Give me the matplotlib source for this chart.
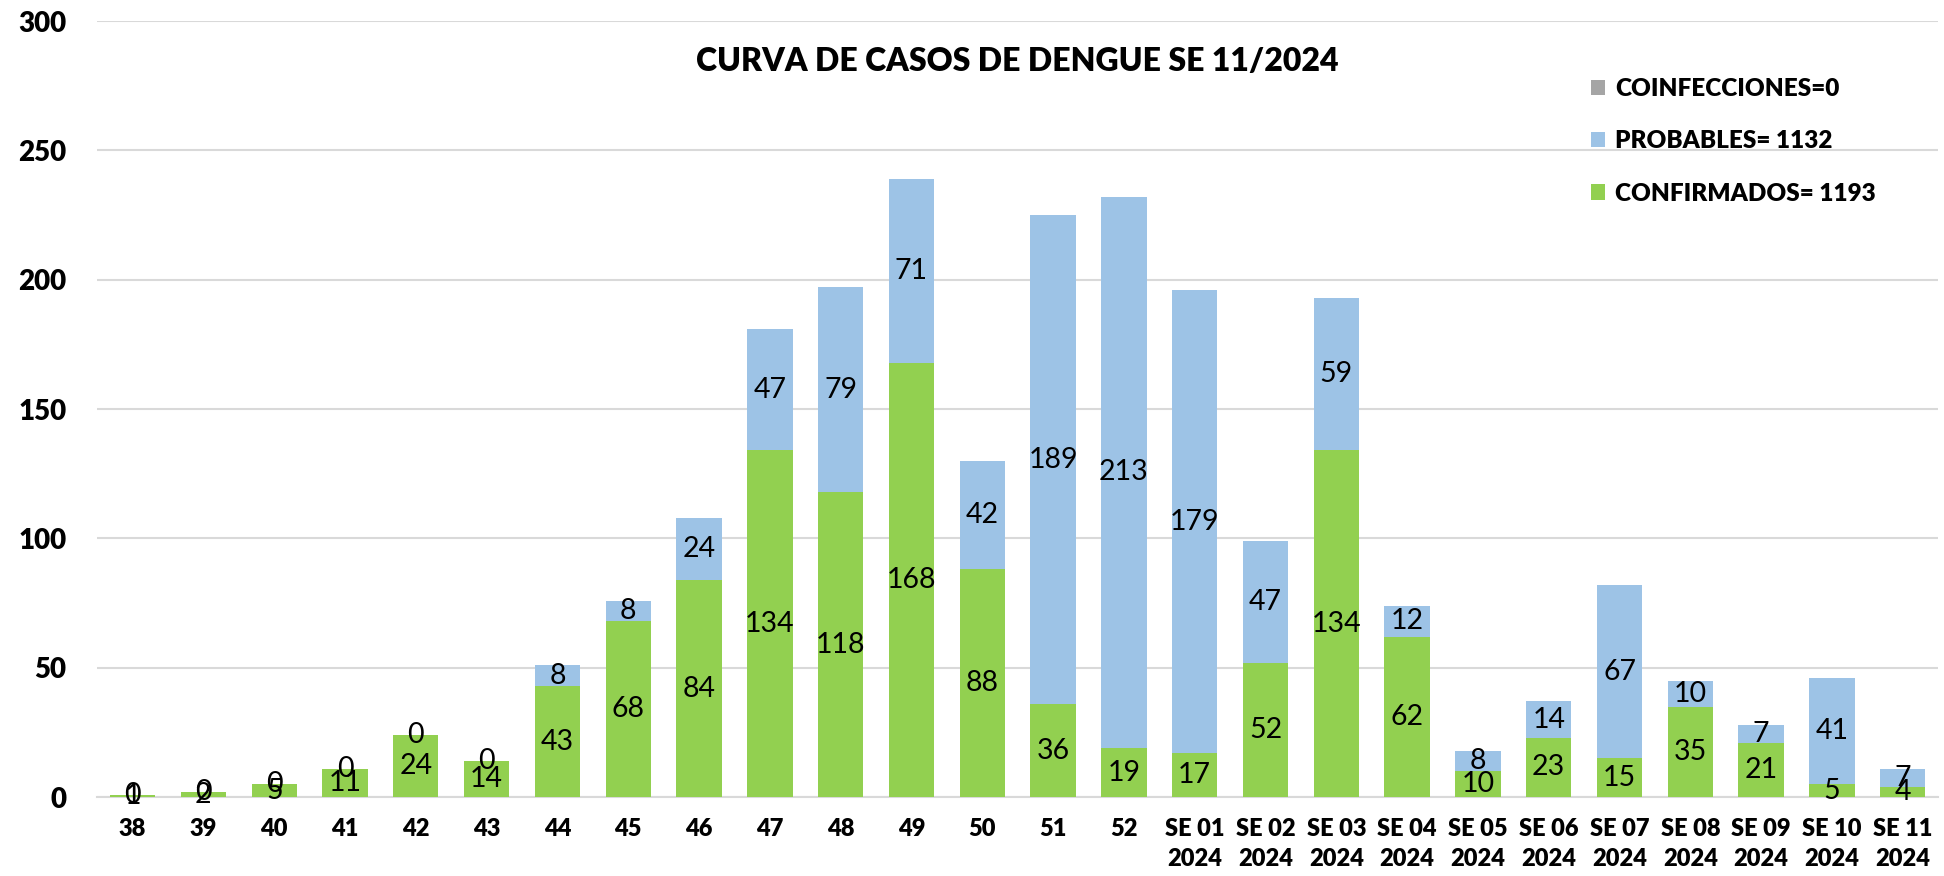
import numpy as np
import matplotlib
matplotlib.use("Agg")
from matplotlib import pyplot as plt

plt.rcParams['font.family'] = ['Lato', 'DejaVu Sans']

semanas = ["38", "39", "40", "41", "42", "43", "44", "45", "46", "47", "48", "49", "50", "51", "52",
           "SE 01\n2024", "SE 02\n2024", "SE 03\n2024", "SE 04\n2024", "SE 05\n2024", "SE 06\n2024",
           "SE 07\n2024", "SE 08\n2024", "SE 09\n2024", "SE 10\n2024", "SE 11\n2024"]
confirmados = [1, 2, 5, 11, 24, 14, 43, 68, 84, 134, 118, 168, 88, 36, 19,
               17, 52, 134, 62, 10, 23, 15, 35, 21, 5, 4]
probables = [0, 0, 0, 0, 0, 0, 8, 8, 24, 47, 79, 71, 42, 189, 213,
             179, 47, 59, 12, 8, 14, 67, 10, 7, 41, 7]
coinfecciones = [0] * len(semanas)

fig = plt.figure(figsize=(19.44, 8.76), dpi=100)
ax = fig.add_axes((0.05, 0.09, 0.947, 0.886))

x = np.arange(len(semanas))
w = 0.64
b1 = ax.bar(x, confirmados, w, color='#92D050', label='CONFIRMADOS= 1193', zorder=3)
b2 = ax.bar(x, probables, w, bottom=confirmados, color='#9DC3E6', label='PROBABLES= 1132', zorder=3)
base2 = np.array(confirmados) + np.array(probables)
b3 = ax.bar(x, coinfecciones, w, bottom=base2, color='#A5A5A5', label='COINFECCIONES=0', zorder=3)

ax.bar_label(b1, labels=[str(v) for v in confirmados], label_type='center', fontsize=20.5, zorder=4)
ax.bar_label(b2, labels=[str(v) for v in probables], label_type='center', fontsize=20.5, zorder=4)

ax.set_xlim(-0.5, len(semanas) - 0.5)
ax.set_ylim(0, 300)
ax.set_yticks(range(0, 301, 50))
ax.yaxis.grid(True, color='#D9D9D9', linewidth=1.5, zorder=0)
for s in ['top', 'right', 'left']:
    ax.spines[s].set_visible(False)
ax.spines['bottom'].set_color('#D9D9D9')
ax.spines['bottom'].set_linewidth(1.5)
ax.tick_params(length=0)
ax.tick_params(axis='y', pad=22, labelsize=20)
ax.tick_params(axis='x', pad=15, labelsize=17)
ax.set_xticks(x)
ax.set_xticklabels(semanas, linespacing=1.45)
for t in ax.get_xticklabels() + ax.get_yticklabels():
    t.set_fontweight('heavy')

ax.set_title("CURVA DE CASOS DE DENGUE SE 11/2024", fontsize=23, fontweight='heavy', y=0.925)

h, l = ax.get_legend_handles_labels()
ax.legend(h[::-1], l[::-1], loc='upper right', bbox_to_anchor=(0.978, 0.955), frameon=False,
          prop={'weight': 'heavy', 'size': 17.5}, handlelength=0.6, handleheight=0.6,
          handletextpad=0.4, labelspacing=1.25)

plt.savefig("out.png", dpi=100)
